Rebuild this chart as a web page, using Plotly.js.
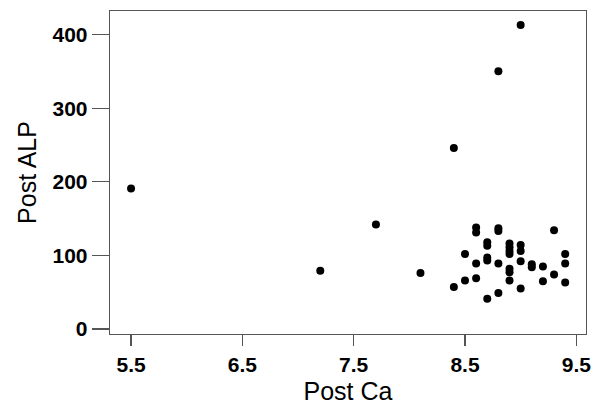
<!DOCTYPE html>
<html>
<head>
<meta charset="utf-8">
<script src="https://cdn.plot.ly/plotly-3.0.1.min.js"></script>
<style>html,body{margin:0;padding:0;background:#fff;}#chart{width:600px;height:405px;}</style>
</head>
<body>
<div id="chart"></div>
<script>
var postCa = [5.5, 7.2, 7.7, 8.1, 8.4, 8.4, 8.8, 9.0,
  8.5, 8.5,
  8.6, 8.6, 8.6, 8.6,
  8.7, 8.7, 8.7, 8.7, 8.7,
  8.8, 8.8, 8.8, 8.8,
  8.9, 8.9, 8.9, 8.9, 8.9, 8.9, 8.9,
  9.0, 9.0, 9.0, 9.0,
  9.1, 9.1,
  9.2, 9.2,
  9.3, 9.3,
  9.4, 9.4, 9.4];
var postALP = [191, 79, 142, 76, 246, 57, 350, 413,
  102, 66,
  138, 131, 89, 69,
  118, 113, 97, 93, 41,
  137, 133, 89, 49,
  116, 111, 106, 102, 82, 77, 66,
  114, 106, 92, 55,
  88, 84,
  85, 65,
  134, 74,
  102, 89, 63];
var xTicks = [5.5, 6.5, 7.5, 8.5, 9.5];
var xTickText = ['5.5', '6.5', '7.5', '8.5', '9.5'];
var yTicks = [0, 100, 200, 300, 400];
var yTickText = ['0', '100', '200', '300', '400'];

var trace = {
  x: postCa, y: postALP, type: 'scatter', mode: 'markers',
  marker: {color: '#000', size: 8}
};
var axisCommon = {
  showgrid: false, zeroline: false, showline: true, mirror: true,
  linecolor: '#555', linewidth: 1.3,
  ticks: 'outside', tickcolor: '#555', tickwidth: 1.3,
  tickfont: {family: 'Liberation Sans, Arial, sans-serif', size: 21, color: '#000', weight: 'bold'}
};
var layout = {
  width: 600, height: 405,
  margin: {l: 110, r: 14, t: 11, b: 71},
  paper_bgcolor: '#fff', plot_bgcolor: '#fff',
  showlegend: false,
  xaxis: Object.assign({}, axisCommon, {
    range: [5.311, 9.587], tickvals: xTicks, ticktext: xTickText, ticklen: 11,
    title: {text: 'Post Ca', font: {family: 'Liberation Sans, Arial, sans-serif', size: 25, color: '#000'}, standoff: 8}
  }),
  yaxis: Object.assign({}, axisCommon, {
    range: [-6.8, 432], tickvals: yTicks, ticktext: yTickText, ticklen: 17,
    title: {text: 'Post ALP', font: {family: 'Liberation Sans, Arial, sans-serif', size: 25, color: '#000'}, standoff: 8}
  })
};
Plotly.newPlot('chart', [trace], layout, {displayModeBar: false, staticPlot: true});
</script>
</body>
</html>
